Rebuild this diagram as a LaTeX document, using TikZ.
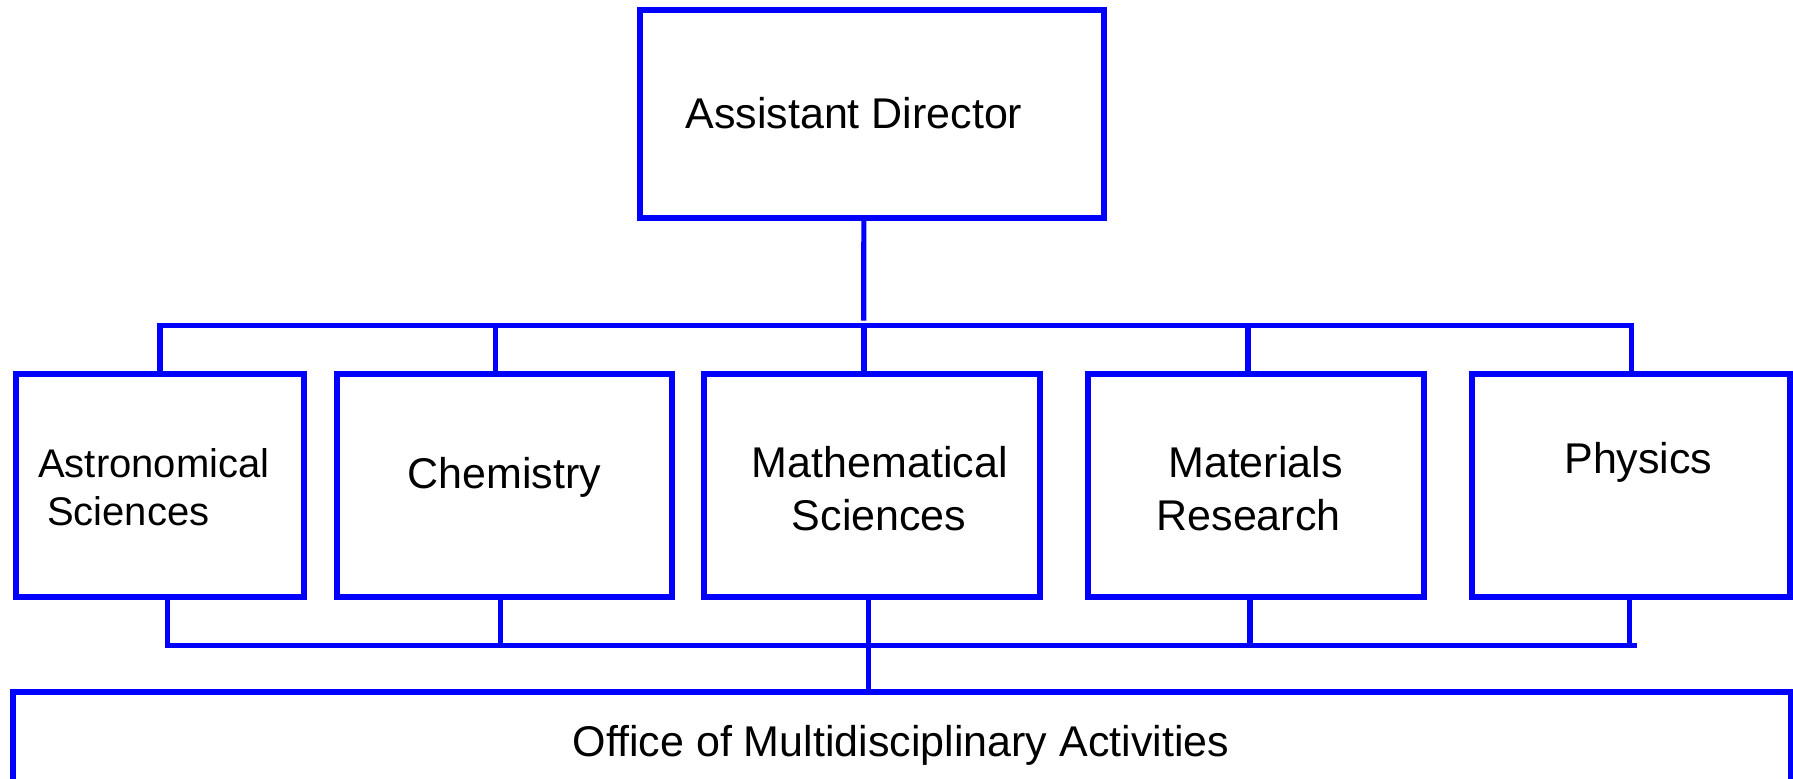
\documentclass[tikz,border=0pt]{standalone}
\usepackage{fontspec}
\setmainfont{Liberation Sans}
\definecolor{orgblue}{RGB}{0,0,255}
\begin{document}
\begin{tikzpicture}[x=0.5pt,y=-0.5pt,
  box/.style={draw=orgblue,line width=3pt,inner sep=0pt,outer sep=0pt,rectangle},
  conn/.style={draw=orgblue,line width=2.6pt},
  lbl/.style={anchor=base,inner sep=0pt,font=\fontsize{21.5}{25}\selectfont},
  lbls/.style={anchor=base,inner sep=0pt,font=\fontsize{20}{24}\selectfont}]
\useasboundingbox (0,0) rectangle (1793,778);
\clip (0,0) rectangle (1793,778);
% boxes
\node[box,minimum width=232.05pt,minimum height=103.7pt] (ad) at (871.85,114) {};
\node[box,minimum width=143.65pt,minimum height=111.65pt] (astro) at (160.05,485.35) {};
\node[box,minimum width=167.55pt,minimum height=111.65pt] (chem) at (504.05,485.35) {};
\node[box,minimum width=167.75pt,minimum height=111.65pt] (math) at (871.75,485.35) {};
\node[box,minimum width=167.65pt,minimum height=111.65pt] (mat) at (1256.05,485.35) {};
\node[box,minimum width=158.85pt,minimum height=111.65pt] (phys) at (1631.15,485.35) {};
\node[box,minimum width=888.75pt,minimum height=79pt] (office) at (901.75,771) {};
% texts
\node[lbl] (tad) at (853.9,128.3) {Assistant Director};
\node[lbls] (tastro1) at (153.8,477.3) {Astronomical};
\node[lbls] (tastro2) at (128.3,525) {Sciences};
\node[lbl] (tchem) at (504.5,488.3) {Chemistry};
\node[lbl] (tmath1) at (879.8,477.3) {Mathematical};
\node[lbl] (tmath2) at (879.1,530) {Sciences};
\node[lbl] (tmat1) at (1255.5,477.3) {Materials};
\node[lbl] (tmat2) at (1248.6,530) {Research};
\node[lbl] (tphys) at (1638.4,473.3) {Physics};
\node[lbl] (toffice) at (900.9,756) {Office of Multidisciplinary Activities};
% connector coordinates
\coordinate (adend) at (863.8,320.7);
\coordinate (tbar) at (0,325.8);
\coordinate (bbar) at (0,645.5);
\coordinate (bbarR) at (1636.7,645.5);
% top connectors
\draw[conn] ([xshift=-4pt]ad.south) -- (adend);
\draw[conn] (astro.north) -- (astro.north |- tbar) -- (phys.north |- tbar) -- (phys.north);
\draw[conn] ([xshift=-4.3pt]chem.north) -- ([xshift=-4.3pt]chem.north |- tbar);
\draw[conn] ([xshift=-3.9pt]math.north) -- ([xshift=-3.9pt]math.north |- tbar);
\draw[conn] ([xshift=-4pt]mat.north) -- ([xshift=-4pt]mat.north |- tbar);
% bottom connectors
\draw[conn] ([xshift=3.7pt]astro.south) |- (bbarR);
\draw[conn] ([xshift=-1.8pt]chem.south) -- ([xshift=-1.8pt]chem.south |- bbar);
\draw[conn] ([xshift=-1.7pt]math.south) -- ([xshift=-1.7pt]math.south |- office.north);
\draw[conn] ([xshift=-3pt]mat.south) -- ([xshift=-3pt]mat.south |- bbar);
\draw[conn] ([xshift=-0.9pt]phys.south) -- ([xshift=-0.9pt]phys.south |- bbar);
\end{tikzpicture}
\end{document}
